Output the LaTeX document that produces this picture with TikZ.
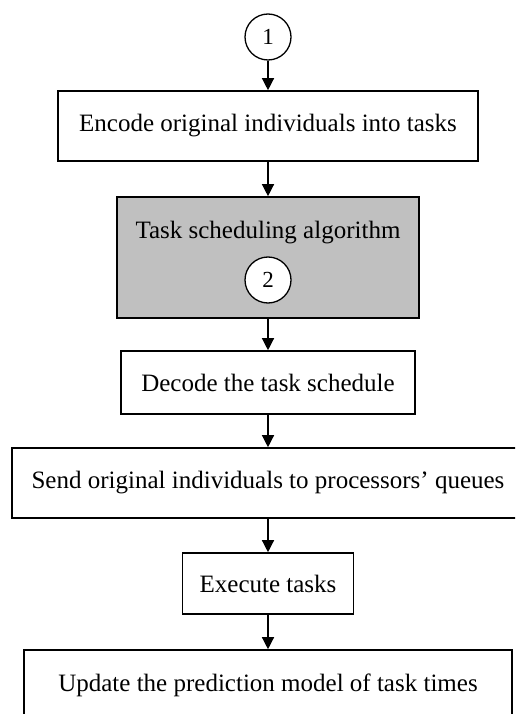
\documentclass[tikz,border=0pt]{standalone}
\usepackage{fontspec}
\setmainfont{Liberation Serif}
\usetikzlibrary{arrows.meta}
\definecolor{boxgray}{RGB}{192,192,192}
\tikzset{
  stepbox/.style={draw, line width=1.6pt, fill=white, rectangle, inner sep=0pt,
    font=\fontsize{25}{30}\selectfont},
  numcirc/.style={draw, line width=1.3pt, fill=white, circle, minimum size=46pt, inner sep=0pt,
    font=\fontsize{23}{28}\selectfont},
  flow/.style={line width=1.3pt, -{Triangle[width=12pt,length=12pt]}},
}
\begin{document}
\begin{tikzpicture}[x=1pt,y=-1pt]
\useasboundingbox (0,0) rectangle (515,714);
\clip (0,0) rectangle (515,714);
\node[numcirc] (c1) at (268,37) {1};
\node[stepbox, minimum width=420pt, minimum height=70pt] (enc) at (268,126) {Encode original individuals into tasks};
\node[stepbox, fill=boxgray, minimum width=302pt, minimum height=121pt] (sched) at (268,257.5) {};
\node[font=\fontsize{25}{30}\selectfont, inner sep=0pt] (schedtxt) at (268,233) {Task scheduling algorithm};
\node[numcirc] (c2) at (268,280) {2};
\node[stepbox, minimum width=294pt, minimum height=63pt] (dec) at (268,382.5) {Decode the task schedule};
\node[stepbox, minimum width=512pt, minimum height=70pt] (send) at (268,483) {Send original individuals to processors’ queues};
\node[stepbox, minimum width=171pt, minimum height=61pt] (exec) at (268,583.5) {Execute tasks};
\node[stepbox, minimum width=488pt, minimum height=72pt, text depth=0pt] (upd) at (268,686) {};
\node[font=\fontsize{25}{30}\selectfont, inner sep=0pt] (updtxt) at (268,685) {Update the prediction model of task times};
\draw[flow] (c1) -- (enc);
\draw[flow] (enc) -- (sched);
\draw[flow] (sched) -- (dec);
\draw[flow] (dec) -- (send);
\draw[flow] (send) -- (exec);
\draw[flow] (exec) -- (upd);
\end{tikzpicture}
\end{document}
